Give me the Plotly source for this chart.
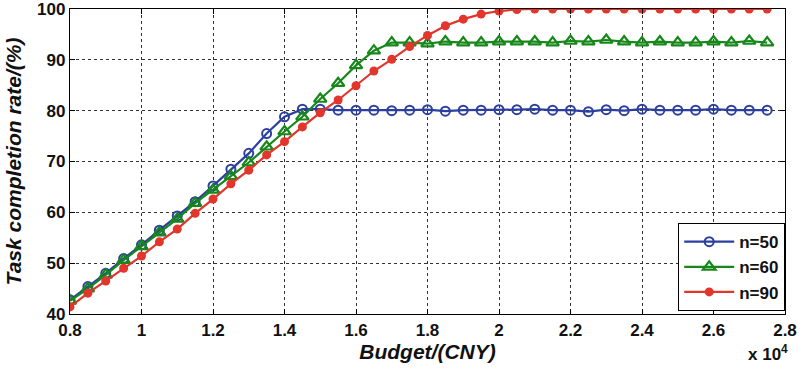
import plotly.graph_objects as go

budget = [0.8, 0.85, 0.9, 0.95, 1.0, 1.05, 1.1, 1.15, 1.2, 1.25, 1.3, 1.35, 1.4, 1.45,
          1.5, 1.55, 1.6, 1.65, 1.7, 1.75, 1.8, 1.85, 1.9, 1.95, 2.0, 2.05, 2.1, 2.15,
          2.2, 2.25, 2.3, 2.35, 2.4, 2.45, 2.5, 2.55, 2.6, 2.65, 2.7, 2.75]

n50 = [42.8, 45.4, 48.0, 50.9, 53.6, 56.5, 59.3, 62.1, 65.2, 68.5, 71.6, 75.5, 78.8, 80.3,
       80.3, 80.1, 80.1, 80.1, 80.0, 80.1, 80.2, 79.9, 80.1, 80.1, 80.2, 80.2, 80.3, 80.1,
       80.1, 79.8, 80.2, 80.0, 80.3, 80.1, 80.1, 80.1, 80.3, 80.1, 80.1, 80.1]

n60 = [42.6, 45.0, 47.7, 50.6, 53.3, 56.0, 58.7, 61.8, 64.4, 67.1, 69.8, 72.9, 75.9, 78.8,
       82.3, 85.4, 88.9, 91.8, 93.4, 93.4, 93.2, 93.6, 93.4, 93.4, 93.6, 93.6, 93.6, 93.4,
       93.7, 93.6, 93.9, 93.6, 93.4, 93.6, 93.4, 93.4, 93.6, 93.4, 93.7, 93.4]

n90 = [41.4, 44.1, 46.5, 49.0, 51.4, 54.2, 56.7, 59.8, 62.6, 65.6, 68.3, 71.3, 73.9, 76.8,
       79.6, 82.1, 84.9, 87.8, 90.1, 92.6, 94.8, 96.7, 98.0, 99.0, 99.6, 99.9, 100.0, 100.0,
       100.0, 100.0, 100.0, 100.0, 100.0, 100.0, 100.0, 100.0, 100.0, 100.0, 100.0, 100.0]

x_ticks = [0.8, 1.0, 1.2, 1.4, 1.6, 1.8, 2.0, 2.2, 2.4, 2.6, 2.8]
x_tick_text = ["0.8", "1", "1.2", "1.4", "1.6", "1.8", "2", "2.2", "2.4", "2.6", "2.8"]
y_ticks = [40, 50, 60, 70, 80, 90, 100]

FONT = "Liberation Sans, Arial, sans-serif"
BLUE = "#2c3f9e"
GREEN = "#16881a"
RED = "#e2352b"

fig = go.Figure()
fig.add_trace(go.Scatter(x=budget, y=n50, name="n=50", mode="lines+markers",
                         line=dict(color=BLUE, width=2.2),
                         marker=dict(symbol="circle-open", size=9, color=BLUE,
                                     line=dict(width=2, color=BLUE))))
fig.add_trace(go.Scatter(x=budget, y=n60, name="n=60", mode="lines+markers",
                         line=dict(color=GREEN, width=2.2),
                         marker=dict(symbol="triangle-up-open", size=11, color=GREEN,
                                     line=dict(width=2.2, color=GREEN))))
fig.add_trace(go.Scatter(x=budget, y=n90, name="n=90", mode="lines+markers",
                         line=dict(color=RED, width=2.2),
                         marker=dict(symbol="circle", size=9, color=RED)))

axis_common = dict(showline=True, linecolor="black", linewidth=1.3, mirror="ticks",
                   ticks="inside", ticklen=5, tickcolor="black",
                   showgrid=True, gridcolor="#333333", griddash="dot", gridwidth=1,
                   zeroline=False, automargin=False, ticklabeloverflow="allow",
                   tickfont=dict(family=FONT, size=17, color="#111111", weight="bold"))

fig.update_xaxes(range=[0.8, 2.8], tickvals=x_ticks, ticktext=x_tick_text,
                 title=dict(text="<b><i>Budget/(CNY)</i></b>", standoff=5,
                            font=dict(family=FONT, size=21, color="#111111")),
                 **axis_common)
fig.update_yaxes(range=[40, 100], tickvals=y_ticks,
                 title=dict(text="<b><i>Task completion rate/(%)</i></b>", standoff=9,
                            font=dict(family=FONT, size=21, color="#111111")),
                 **axis_common)

fig.add_annotation(text="<b>x 10<sup>4</sup></b>", xref="paper", yref="paper",
                   x=1.007, y=-0.085, xanchor="right", yanchor="top", showarrow=False,
                   font=dict(family=FONT, size=17, color="#111111"))

fig.update_layout(
    width=802, height=373,
    margin=dict(l=70, r=17, t=9, b=59),
    plot_bgcolor="white", paper_bgcolor="white",
    showlegend=True,
    legend=dict(x=1.0, y=0.01, xanchor="right", yanchor="bottom",
                bgcolor="white", bordercolor="black", borderwidth=1.2,
                font=dict(family=FONT, size=17, color="#111111", weight="bold"),
                tracegroupgap=0, itemwidth=50),
)

fig.write_html("out.html", config={"displayModeBar": False},
               post_script="document.body.style.margin='0';document.body.style.overflow='hidden';")
